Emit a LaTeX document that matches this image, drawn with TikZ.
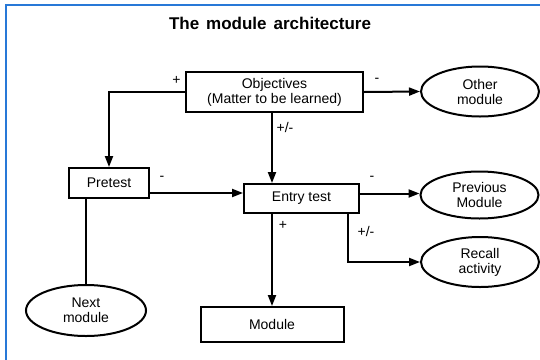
\documentclass[tikz,border=0pt]{standalone}
\usepackage{fontspec}
\setmainfont{Liberation Sans}
\usetikzlibrary{shapes.geometric,arrows.meta,calc}
\definecolor{frameblue}{RGB}{40,120,215}
\begin{document}
\begin{tikzpicture}[x=1pt,y=-1pt,
  box/.style={draw,line width=2pt,rectangle,inner sep=0pt,align=center,
    font=\fontsize{14}{15}\selectfont},
  oval/.style={draw,line width=2pt,ellipse,inner sep=0pt,align=center,
    font=\fontsize{14}{15}\selectfont},
  link/.style={line width=2pt,-{Triangle[length=11pt,width=8pt]}},
  plain/.style={line width=2pt},
  sign/.style={inner sep=0pt,font=\fontsize{14}{15}\selectfont}]
\useasboundingbox (0,0) rectangle (540,359);
% outer frame
\draw[line width=1.5pt,draw=frameblue] (6,5) rectangle (570,390);

\node[inner sep=0pt,font={\fontsize{17}{18}\bfseries}] (title) at (270,23) {\spaceskip=7pt The module architecture};

% boxes
\node[box,minimum width=177,minimum height=40] (obj) at (274.5,92) {Objectives\\(Matter to be learned)};
\node[box,minimum width=80,minimum height=30] (pre) at (109,183) {Pretest};
\node[box,minimum width=115,minimum height=29] (entry) at (301.5,198.5) {Entry test};
\node[box,minimum width=143,minimum height=35] (mod) at (272,324.5) {Module};

% ovals
\node[oval,minimum width=118,minimum height=50] (other) at (480,91.5) {Other\\module};
\node[oval,minimum width=118,minimum height=47] (prev) at (479.5,195) {Previous\\Module};
\node[oval,minimum width=118,minimum height=50] (recall) at (480,262) {Recall\\activity};
\node[oval,minimum width=120,minimum height=51] (next) at (86,310.5) {Next\\module};

% connectors
\draw[link] (obj.west) -| (pre.north);
\draw[link] (obj.east) -- (other.west);
\draw[link] (obj.south -| mod.north) -- (entry.north -| mod.north);
\draw[link] ([yshift=-10pt]pre.east) -- ([yshift=-10pt]pre.east -| entry.west);
\draw[link] ([yshift=5pt]entry.east) -- ([yshift=5pt]entry.east -| prev.west);
\draw[link] (entry.south -| mod.north) -- (mod.north);
\draw[link] ([xshift=-12pt]entry.south east) |- (recall.west);
\draw[plain] (pre.south -| next.north) -- (next.north);

% signs
\node[sign] (s1) at (176.5,80) {+};
\node[sign] (s2) at (377,80) {-};
\node[sign] (s3) at (285,127) {+/-};
\node[sign] (s4) at (162,178) {-};
\node[sign] (s5) at (372,178) {-};
\node[sign] (s6) at (283,225) {+};
\node[sign] (s7) at (366,231) {+/-};
\end{tikzpicture}
\end{document}
